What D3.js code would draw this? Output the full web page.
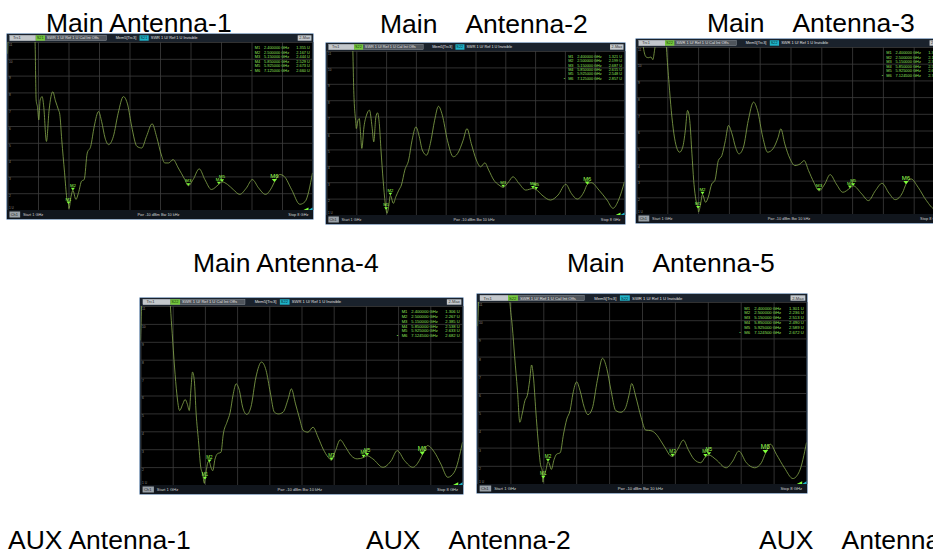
<!DOCTYPE html>
<html>
<head>
<meta charset="utf-8">
<script src="https://cdn.jsdelivr.net/npm/d3@7"></script>
<style>
  html, body { margin: 0; padding: 0; background: #fff; }
  svg { display: block; }
  text { font-family: "Liberation Sans", Arial, sans-serif; }
</style>
</head>
<body>
<svg width="933" height="555"></svg>
<script>
// titles above / below the screenshots
const titleTexts = ['Main Antenna-1', 'Main    Antenna-2', 'Main    Antenna-3', 'Main Antenna-4',
  'Main    Antenna-5', 'AUX Antenna-1', 'AUX    Antenna-2', 'AUX    Antenna-3'];

const markerNames = ['M1', 'M2', 'M3', 'M4', 'M5', 'M6'];
const markerFreqsA = [2.4, 2.5, 5.15, 5.85, 5.925, 7.125];
const markerFreqsB = [2.4, 2.5, 5.15, 5.85, 5.925, 7.1245];
const sParams = ['S21', 'S22', 'S22', 'S22', 'S22'];

// marker readouts (SWR, U)
const markerVals1 = [1.355, 2.167, 2.444, 2.529, 2.673, 2.660];
const markerVals2 = [1.321, 2.199, 2.687, 2.615, 2.548, 2.857];
const markerVals3 = [1.323, 2.168, 2.388, 2.547, 2.686, 2.788];
const markerVals4 = [1.306, 2.267, 2.385, 2.538, 2.633, 2.682];
const markerVals5 = [1.301, 2.236, 2.513, 2.490, 2.589, 2.672];

// SWR traces: [GHz, SWR]
const trace1 = [[1.0,10.3],[1.01,11.2],[1.03,12.5],[1.6,12.5],[1.634,10.9],[1.657,7.55],[1.69,7.1],[1.718,6.36],
  [1.749,7.55],[1.795,7.75],[1.83,7.2],[1.894,5.08],[1.955,6.96],[2.04,8.04],[2.10,7.5],[2.17,6.96],[2.20,6.7],
  [2.245,5.18],[2.31,3.21],[2.36,1.73],[2.40,1.355],[2.41,1.08],[2.46,1.83],[2.50,2.167],[2.57,1.63],[2.63,2.03],
  [2.70,2.72],[2.76,2.81],[2.83,4.39],[2.91,4.79],[2.99,5.97],[3.09,6.86],[3.16,6.27],[3.24,5.28],[3.32,4.89],
  [3.43,5.38],[3.54,6.76],[3.66,7.75],[3.76,7.25],[3.85,5.97],[3.97,4.79],[4.08,4.69],[4.19,5.38],[4.32,6.13],
  [4.42,5.38],[4.54,4.2],[4.61,3.8],[4.70,3.8],[4.80,4.0],[4.92,3.5],[5.07,2.81],[5.15,2.444],[5.26,2.81],
  [5.40,3.45],[5.53,2.81],[5.68,2.22],[5.85,2.529],[5.925,2.673],[6.05,2.52],[6.18,2.22],[6.33,1.93],[6.48,2.3],
  [6.62,2.81],[6.76,2.32],[6.92,1.93],[7.06,2.32],[7.125,2.66],[7.25,3.11],[7.35,3.0],[7.52,2.22],[7.71,1.34],
  [7.83,1.5],[8.0,3.21]];
const trace2 = [[1.0,12.5],[1.6,12.5],[1.62,10.9],[1.64,8.6],[1.69,6.58],[1.70,6.27],[1.74,6.78],[1.77,6.88],
  [1.80,5.97],[1.83,5.06],[1.88,6.37],[1.94,7.09],[2.01,7.39],[2.07,6.37],[2.11,5.46],[2.16,6.98],[2.20,7.23],
  [2.24,6.58],[2.28,4.96],[2.33,3.13],[2.38,1.71],[2.40,1.321],[2.42,1.10],[2.46,1.51],[2.50,2.199],[2.57,1.71],
  [2.63,2.12],[2.70,2.52],[2.76,2.83],[2.84,3.74],[2.93,4.35],[3.01,5.56],[3.10,6.37],[3.18,5.77],[3.25,4.96],
  [3.35,4.65],[3.44,5.36],[3.54,6.78],[3.63,7.63],[3.72,7.09],[3.84,5.56],[3.98,4.55],[4.08,4.75],[4.21,5.56],
  [4.30,6.27],[4.40,5.36],[4.52,4.35],[4.62,3.94],[4.72,4.18],[4.81,3.74],[4.93,3.13],[5.05,2.83],[5.15,2.687],
  [5.28,3.03],[5.38,3.33],[5.52,2.93],[5.68,2.52],[5.85,2.615],[5.925,2.548],[6.06,2.22],[6.26,1.91],[6.44,2.22],
  [6.62,2.87],[6.75,2.32],[6.89,1.97],[7.05,2.42],[7.125,2.857],[7.22,2.97],[7.40,2.52],[7.59,1.91],[7.73,1.41],
  [7.86,1.91],[8.0,3.03]];
const trace3 = [[1.0,12.5],[1.13,12.5],[1.155,11],[1.22,10.4],[1.27,10.36],[1.33,10.4],[1.37,10.24],[1.41,10.8],
  [1.43,11.2],[1.46,12.5],[1.65,12.5],[1.68,11],[1.74,8.8],[1.79,7.2],[1.85,5.8],[1.91,5.0],[1.98,4.7],[2.05,5.0],
  [2.11,6.0],[2.16,7.2],[2.21,6.6],[2.26,4.6],[2.30,3.0],[2.36,1.7],[2.40,1.323],[2.41,1.12],[2.45,1.5],
  [2.50,2.168],[2.57,1.7],[2.63,2.0],[2.71,2.8],[2.78,3.0],[2.86,4.2],[2.94,4.5],[3.02,5.4],[3.09,6.3],[3.17,5.8],
  [3.25,5.0],[3.33,4.6],[3.43,5.0],[3.54,6.6],[3.66,7.7],[3.75,7.2],[3.87,5.6],[3.98,4.7],[4.10,4.9],[4.22,5.6],
  [4.28,6.1],[4.37,5.2],[4.49,4.3],[4.60,3.9],[4.72,4.0],[4.81,4.2],[4.91,3.6],[5.03,2.9],[5.15,2.388],[5.28,2.8],
  [5.40,3.36],[5.54,2.8],[5.69,2.3],[5.85,2.547],[5.925,2.686],[6.12,2.2],[6.27,1.8],[6.43,2.4],[6.58,2.84],
  [6.74,2.24],[6.88,1.86],[7.05,2.3],[7.1245,2.788],[7.24,3.1],[7.40,2.6],[7.59,1.8],[7.78,1.3],[7.9,1.7],[8.0,2.6]];
const trace4 = [[1.0,9.08],[1.03,11.5],[1.05,12.5],[1.62,12.5],[1.65,11],[1.69,9.45],[1.74,7.59],[1.79,6.09],
  [1.85,5.16],[1.92,5.53],[1.97,5.78],[2.02,5.5],[2.06,5.16],[2.10,6.47],[2.13,7.31],[2.17,6.84],[2.21,4.97],
  [2.26,3.48],[2.31,1.99],[2.35,1.62],[2.39,1.09],[2.40,1.306],[2.43,1.8],[2.47,2.3],[2.50,2.267],[2.53,2.0],
  [2.57,1.80],[2.62,2.45],[2.67,2.74],[2.75,2.83],[2.80,3.85],[2.88,4.51],[2.95,5.07],[3.01,6.0],[3.08,6.65],
  [3.15,6.28],[3.22,5.35],[3.31,4.94],[3.40,5.35],[3.51,7.03],[3.63,7.87],[3.73,7.40],[3.82,6.19],[3.91,5.07],
  [4.00,4.97],[4.10,5.07],[4.21,5.81],[4.28,6.37],[4.37,5.53],[4.45,4.79],[4.54,4.04],[4.64,3.95],[4.75,4.23],
  [4.86,3.67],[4.97,3.01],[5.08,2.55],[5.15,2.385],[5.24,2.92],[5.34,3.52],[5.46,3.11],[5.58,2.64],[5.71,2.46],
  [5.85,2.538],[5.925,2.633],[6.05,2.46],[6.27,1.99],[6.45,2.36],[6.58,2.92],[6.74,2.36],[6.92,1.99],[7.06,2.36],
  [7.1245,2.682],[7.24,3.2],[7.39,2.83],[7.53,2.17],[7.68,1.43],[7.82,1.71],[8.0,3.39]];
const trace5 = [[1.0,9.67],[1.03,11.5],[1.05,12.5],[1.66,12.5],[1.69,11],[1.74,9.67],[1.79,8.0],[1.85,6.15],
  [1.90,4.39],[1.95,4.85],[2.01,5.59],[2.06,5.87],[2.11,6.70],[2.15,7.54],[2.19,6.89],[2.24,5.04],[2.29,3.37],
  [2.34,2.07],[2.38,1.70],[2.395,1.1],[2.40,1.301],[2.46,1.80],[2.50,2.236],[2.53,2.1],[2.57,1.80],[2.63,2.35],
  [2.68,2.63],[2.76,2.72],[2.83,3.74],[2.90,4.57],[2.97,5.04],[3.03,5.96],[3.11,6.61],[3.18,6.15],[3.27,5.22],
  [3.35,4.81],[3.44,5.13],[3.55,6.70],[3.66,7.91],[3.75,7.35],[3.84,6.15],[3.94,5.04],[4.05,4.94],[4.14,5.13],
  [4.23,5.96],[4.28,6.52],[4.37,5.78],[4.48,4.67],[4.58,3.96],[4.69,3.93],[4.80,3.74],[4.90,3.37],[5.01,2.91],
  [5.10,2.56],[5.15,2.513],[5.26,2.91],[5.38,3.41],[5.48,2.91],[5.61,2.35],[5.75,2.17],[5.85,2.49],[5.925,2.589],
  [6.07,2.35],[6.29,1.89],[6.43,2.26],[6.56,2.81],[6.72,2.17],[6.90,1.89],[7.04,2.17],[7.1245,2.672],[7.23,3.19],
  [7.36,2.63],[7.53,1.89],[7.71,1.30],[7.85,1.70],[8.0,3.28]];

const yTickLabels = ['11', '10', '9', '8', '7', '6', '5', '4', '3', '2', '1 U'];

// layout
const titlePos = [[46, 32], [380, 33], [707, 32], [193, 272], [567, 272], [8, 549], [366, 549], [759, 549]];
const panelBoxes = [
  { x: 7, y: 34, w: 306, h: 185 },
  { x: 326, y: 43, w: 299, h: 181 },
  { x: 636, y: 39, w: 309, h: 184 },
  { x: 140, y: 298, w: 323, h: 196 },
  { x: 477, y: 294, w: 330, h: 199 },
];

const panels = [
  { trace: trace1, vals: markerVals1, freqs: markerFreqsA },
  { trace: trace2, vals: markerVals2, freqs: markerFreqsA },
  { trace: trace3, vals: markerVals3, freqs: markerFreqsB },
  { trace: trace4, vals: markerVals4, freqs: markerFreqsB },
  { trace: trace5, vals: markerVals5, freqs: markerFreqsB },
];

const svg = d3.select('svg');
const defs = svg.append('defs');

svg.selectAll('text.title')
  .data(titleTexts)
  .enter()
  .append('text')
  .attr('class', 'title')
  .attr('x', (d, i) => titlePos[i][0])
  .attr('y', (d, i) => titlePos[i][1])
  .attr('font-size', 26.5)
  .attr('fill', '#000')
  .style('white-space', 'pre')
  .text((d) => d);

panels.forEach((p, i) => drawPanel(p, panelBoxes[i], i));

function drawPanel(p, box, idx) {
  const s = box.w / 306;
  const fs = 3.9 * s;
  const hh = 8, fh = 9;
  const g = svg.append('g').attr('transform', `translate(${box.x},${box.y})`);

  g.append('rect').attr('width', box.w).attr('height', box.h)
    .attr('fill', '#000').attr('stroke', '#2f5a8c').attr('stroke-width', 1);

  // header bar
  const hdr = g.append('g');
  hdr.append('rect').attr('width', box.w).attr('height', hh).attr('fill', '#1a222c');
  hdr.append('rect').attr('x', box.w * 0.009).attr('y', 1.3).attr('width', box.w * 0.316).attr('height', hh - 2.6)
    .attr('fill', '#4f555c').attr('stroke', '#9aa1a8').attr('stroke-width', 0.4);
  hdr.append('rect').attr('x', box.w * 0.009).attr('y', 1.3).attr('width', box.w * 0.085).attr('height', hh - 2.6)
    .attr('fill', '#c4c8cc');
  hdr.append('rect').attr('x', box.w * 0.094).attr('y', 1.3).attr('width', box.w * 0.03).attr('height', hh - 2.6)
    .attr('fill', '#74c83c');
  hdr.append('rect').attr('x', box.w * 0.433).attr('y', 1.3).attr('width', box.w * 0.03).attr('height', hh - 2.6)
    .attr('fill', '#1eb3c8');
  hdr.append('rect').attr('x', box.w * 0.95).attr('y', 1.3).attr('width', box.w * 0.045).attr('height', hh - 2.6)
    .attr('fill', '#c4c8cc');
  const hText = [
    [0.02, 'Trc1', '#333'], [0.097, sParams[idx], '#1a3a10'], [0.13, 'SWR 1 U/ Ref 1 U Cal Int Offs', '#e0e0e0'],
    [0.355, 'Mem5[Trc3]', '#e0e0e0'], [0.436, sParams[idx], '#0a2a30'], [0.47, 'SWR 1 U/ Ref 1 U Invisible', '#e0e0e0'],
    [0.955, '2-Max', '#333'],
  ];
  hdr.selectAll('text').data(hText).enter().append('text')
    .attr('x', (d) => box.w * d[0]).attr('y', hh / 2 + fs * 0.36)
    .attr('font-size', fs).attr('fill', (d) => d[2]).text((d) => d[1]);

  // plot area
  const gx0 = 0.5, gx1 = box.w - 0.5, gy0 = hh, gy1 = box.h - fh;
  const x = d3.scaleLinear().domain([1, 8]).range([gx0, gx1]);
  const y = d3.scaleLinear().domain([1, 11]).range([gy1, gy0]);

  const grid = g.append('g');
  grid.append('g').attr('transform', `translate(0,${gy1})`)
    .call(d3.axisBottom(x).tickValues(d3.range(0, 11).map((k) => 1 + k * 0.7)).tickSize(-(gy1 - gy0)).tickFormat(''));
  grid.append('g').attr('transform', `translate(${gx0},0)`)
    .call(d3.axisLeft(y).tickValues(d3.range(1, 12)).tickSize(-(gx1 - gx0)).tickFormat(''));
  grid.selectAll('.domain').remove();
  grid.selectAll('.tick line').attr('stroke', '#3e3e3e').attr('stroke-width', 0.8);

  g.append('g').selectAll('text').data(yTickLabels).enter().append('text')
    .attr('x', 2).attr('y', (d, k) => y(11 - k) + (k === 10 ? -1 : fs * 0.95))
    .attr('font-size', fs * 0.8).attr('fill', '#8a8a8a').text((d) => d);

  // clip rect lives in the panel's own coordinates
  const clipId = 'clip' + idx;
  defs.append('clipPath').attr('id', clipId).append('rect')
    .attr('x', gx0).attr('y', gy0).attr('width', gx1 - gx0).attr('height', gy1 - gy0);

  const line = d3.line().x((d) => x(d[0])).y((d) => y(d[1])).curve(d3.curveMonotoneX);
  g.append('path')
    .attr('clip-path', `url(#${clipId})`)
    .datum(p.trace)
    .attr('d', line)
    .attr('fill', 'none')
    .attr('stroke', '#88aa4c')
    .attr('stroke-width', 0.8);

  // markers
  const mk = g.append('g');
  p.freqs.forEach((f, k) => {
    const mx = x(f), my = y(p.vals[k]);
    const big = k === 5;
    const tw = (big ? 2.6 : 2) * s, th = (big ? 3.2 : 2.6) * s;
    mk.append('path')
      .attr('d', `M${mx - tw},${my - th}L${mx + tw},${my - th}L${mx},${my}Z`)
      .attr('fill', '#7dff3a');
    mk.append('text')
      .attr('x', mx).attr('y', my - th - 0.8)
      .attr('text-anchor', 'middle')
      .attr('font-size', big ? fs * 1.55 : fs * 1.1)
      .attr('fill', '#9cff52')
      .text(markerNames[k]);
  });

  // marker table
  const tbl = g.append('g');
  markerNames.forEach((m, k) => {
    const ty = gy0 + 7 * s + k * 4.5 * s;
    const row = tbl.append('g').attr('font-size', fs).attr('fill', '#8fe05a');
    if (k === 5) row.append('text').attr('x', box.w * 0.795).attr('y', ty).text('•');
    row.append('text').attr('x', box.w * 0.81).attr('y', ty).text(m);
    row.append('text').attr('x', box.w * 0.84).attr('y', ty).text(p.freqs[k].toFixed(6) + ' GHz');
    row.append('text').attr('x', box.w * 0.99).attr('y', ty).attr('text-anchor', 'end')
      .text(p.vals[k].toFixed(3) + ' U');
  });

  // end-of-trace indicators
  g.append('path').attr('d', `M${gx1 - 9 * s},${gy1}L${gx1 - 4 * s},${gy1}L${gx1 - 4 * s},${gy1 - 2.5 * s}Z`).attr('fill', '#7dff3a');
  g.append('path').attr('d', `M${gx1 - 4 * s},${gy1}L${gx1},${gy1}L${gx1},${gy1 - 2.5 * s}Z`).attr('fill', '#1eb3c8');

  // footer bar
  const ft = g.append('g').attr('transform', `translate(0,${gy1})`);
  ft.append('rect').attr('width', box.w).attr('height', fh).attr('fill', '#11161d');
  ft.append('rect').attr('x', box.w * 0.008).attr('y', 1.5).attr('width', box.w * 0.035).attr('height', fh - 3)
    .attr('fill', '#9aa1a8');
  const fText = [
    [0.012, 'Ch1', '#222', 'start'], [0.052, 'Start 1 GHz', '#d0d0d0', 'start'],
    [0.495, 'Pwr -10 dBm Bw 10 kHz', '#d0d0d0', 'middle'], [0.985, 'Stop 8 GHz', '#d0d0d0', 'end'],
  ];
  ft.selectAll('text').data(fText).enter().append('text')
    .attr('x', (d) => box.w * d[0]).attr('y', fh / 2 + fs * 0.36)
    .attr('text-anchor', (d) => d[3])
    .attr('font-size', fs).attr('fill', (d) => d[2]).text((d) => d[1]);
}
</script>
</body>
</html>
